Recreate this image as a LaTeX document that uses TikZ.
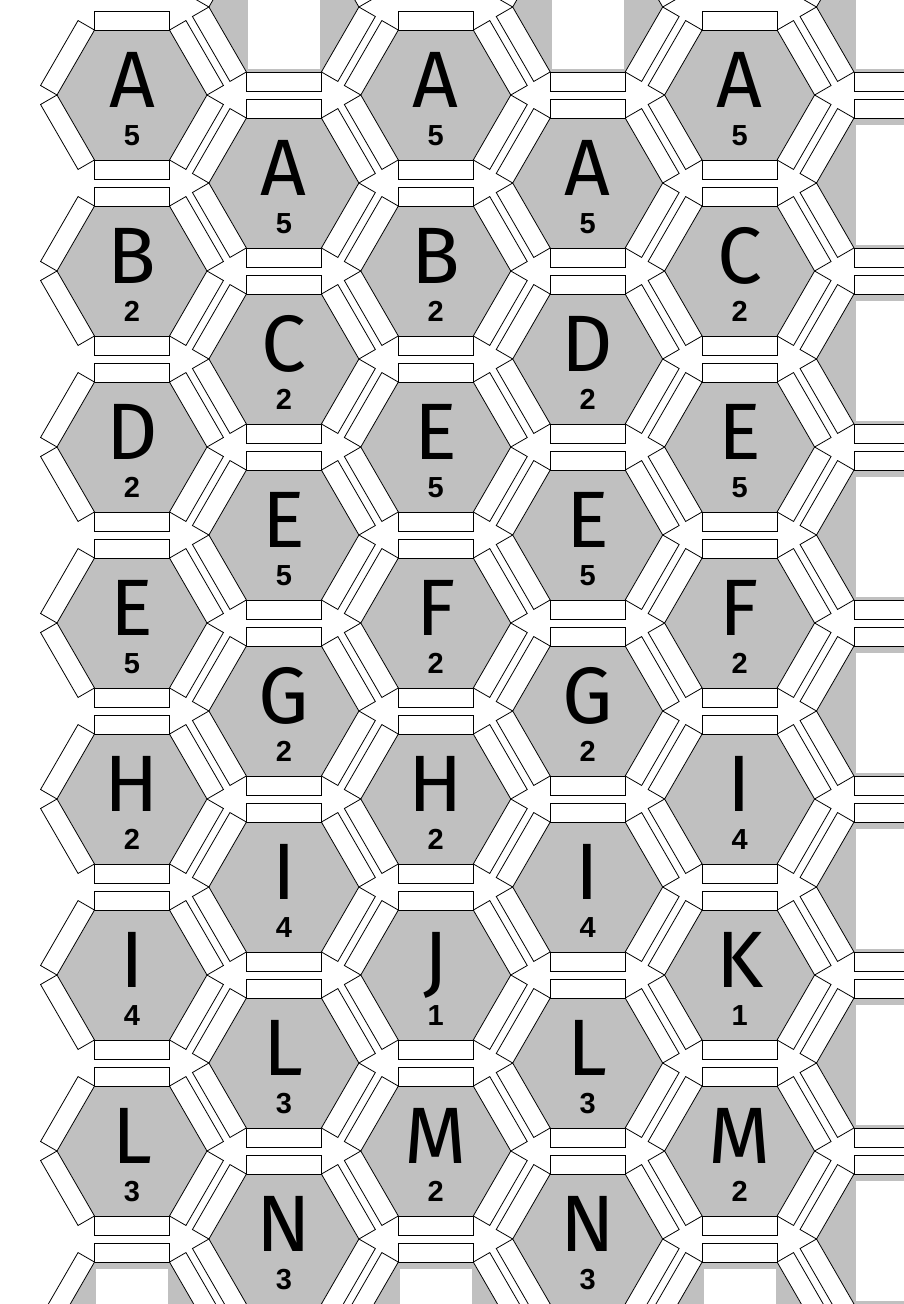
\documentclass[tikz,border=0pt]{standalone}
\usepackage{fontspec}
\setmainfont{Fira Sans}
\newfontfamily\digitfont{Liberation Sans}
\definecolor{hexgray}{RGB}{192,192,192}
\newcommand\hexcell[2]{%
  \pgfmathsetmacro\cx{132+151.9*#1}%
  \pgfmathsetmacro\cy{95+176*#2+88*mod(#1,2)}%
  \begin{scope}[shift={(\cx,\cy)}]
    \fill[hexgray] (75,0) -- (37.5,64.95) -- (-37.5,64.95) -- (-75,0) -- (-37.5,-64.95) -- (37.5,-64.95) -- cycle;
    \foreach \k in {0,...,5}{
      \draw[tab,rotate=60*\k] (-37.5,64.95) -- (37.5,64.95) -- (37.5,83.95) -- (-37.5,83.95) -- cycle;
    }
  \end{scope}
}
\begin{document}
\begin{tikzpicture}[x=1pt,y=-1pt,
  tab/.style={draw=black,fill=white,line width=0.8pt,line join=miter},
  blank/.style={fill=white},
  letter/.style={font=\fontsize{80}{80}\selectfont,inner sep=0pt,anchor=base},
  score/.style={font=\digitfont\bfseries\fontsize{29}{29}\selectfont,inner sep=0pt,anchor=base}]
\useasboundingbox (0,0) rectangle (904,1304);
\clip (0,0) rectangle (904,1304);
\fill[white] (0,0) rectangle (904,1304);
% blank (clipped) tiles at the edges
\foreach \c/\r in {1/-1,3/-1,0/7,2/7,4/7,5/-1,5/0,5/1,5/2,5/3,5/4,5/5,5/6,5/7}{
  \hexcell{\c}{\r}
  \fill[blank] (\cx-36,\cy-58) rectangle (\cx+36,\cy+62);
}
% lettered tiles
\foreach \c/\r/\l/\n in {
  0/0/A/5, 0/1/B/2, 0/2/D/2, 0/3/E/5, 0/4/H/2, 0/5/I/4, 0/6/L/3,
  1/0/A/5, 1/1/C/2, 1/2/E/5, 1/3/G/2, 1/4/I/4, 1/5/L/3, 1/6/N/3,
  2/0/A/5, 2/1/B/2, 2/2/E/5, 2/3/F/2, 2/4/H/2, 2/5/J/1, 2/6/M/2,
  3/0/A/5, 3/1/D/2, 3/2/E/5, 3/3/G/2, 3/4/I/4, 3/5/L/3, 3/6/N/3,
  4/0/A/5, 4/1/C/2, 4/2/E/5, 4/3/F/2, 4/4/I/4, 4/5/K/1, 4/6/M/2}{
  \hexcell{\c}{\r}
  \node[letter] (L-\c-\r) at (\cx,\cy+12) {\l};
  \node[score] (S-\c-\r) at (\cx,\cy+50) {\n};
}
\end{tikzpicture}
\end{document}
